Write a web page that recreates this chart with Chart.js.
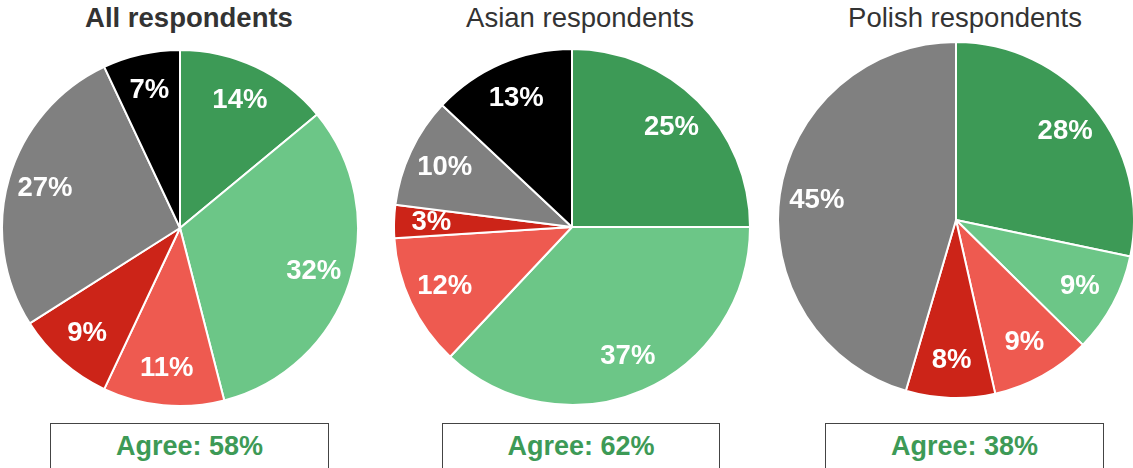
<!DOCTYPE html>
<html>
<head>
  <title>Respondents agreement pies</title>
  <script src="https://cdn.jsdelivr.net/npm/chart.js@4.4.1/dist/chart.umd.min.js"></script>
  <style>
    body {
      margin: 0;
      width: 1133px;
      height: 468px;
      overflow: hidden;
      background: white;
      font-family: "Liberation Sans", Arial, sans-serif;
      position: relative;
    }
    .title {
      position: absolute;
      top: 0;
      width: 400px;
      text-align: center;
      font-size: 27.5px;
      color: #333;
      line-height: 36px;
    }
    .pie {
      position: absolute;
      width: 358px;
      height: 358px;
    }
    .box {
      position: absolute;
      top: 423px;
      height: 60px;
      border: 1px solid #444;
      text-align: center;
      font-size: 27px;
      font-weight: bold;
      color: #3d9a56;
      line-height: 44px;
      box-sizing: border-box;
    }
  </style>
</head>
<body>
  <div class="title" style="left:-11px;font-weight:bold;">All respondents</div>
  <div class="title" style="left:380px;">Asian respondents</div>
  <div class="title" style="left:765px;">Polish respondents</div>

  <div class="pie" style="left:1px;top:49px;"><canvas id="pie0"></canvas></div>
  <div class="pie" style="left:393px;top:48px;"><canvas id="pie1"></canvas></div>
  <div class="pie" style="left:777px;top:41px;"><canvas id="pie2"></canvas></div>

  <div class="box" style="left:50px;width:279px;" id="agree0"></div>
  <div class="box" style="left:442px;width:278px;" id="agree1"></div>
  <div class="box" style="left:825px;width:279px;" id="agree2"></div>

  <script>
    // Data (percent), clockwise from the top
    var categories = ['Strongly agree', 'Agree', 'Disagree', 'Strongly disagree', 'Neutral', 'Don\'t know'];
    var allValues = [14, 32, 11, 9, 27, 7];
    var asianValues = [25, 37, 12, 3, 10, 13];
    var polishValues = [28, 9, 9, 8, 45, 0];
    var agreeTotals = [58, 62, 38];

    var colors = ['#3d9a56', '#6cc687', '#ee5a50', '#cc2418', '#808080', '#000000'];

    // White percent labels inside slices
    var sliceLabels = {
      id: 'sliceLabels',
      afterDatasetsDraw: function(chart) {
        var ctx = chart.ctx;
        var meta = chart.getDatasetMeta(0);
        var data = chart.data.datasets[0].data;
        ctx.save();
        ctx.fillStyle = 'white';
        ctx.font = 'bold 27.5px "Liberation Sans", Arial, sans-serif';
        ctx.textAlign = 'center';
        ctx.textBaseline = 'middle';
        meta.data.forEach(function(arc, i) {
          if (!data[i]) return;
          var mid = (arc.startAngle + arc.endAngle) / 2;
          var r = arc.outerRadius * 0.79;
          ctx.fillText(data[i] + '%', arc.x + Math.cos(mid) * r, arc.y + Math.sin(mid) * r);
        });
        ctx.restore();
      }
    };

    function makePie(id, values) {
      new Chart(document.getElementById(id), {
        type: 'pie',
        data: {
          labels: categories,
          datasets: [{
            data: values,
            backgroundColor: colors,
            borderColor: 'white',
            borderWidth: 2
          }]
        },
        options: {
          responsive: true,
          maintainAspectRatio: false,
          animation: false,
          layout: { padding: 0 },
          plugins: {
            legend: { display: false },
            tooltip: { enabled: false }
          }
        },
        plugins: [sliceLabels]
      });
    }

    makePie('pie0', allValues);
    makePie('pie1', asianValues);
    makePie('pie2', polishValues);

    for (var i = 0; i < agreeTotals.length; i++) {
      document.getElementById('agree' + i).textContent = 'Agree: ' + agreeTotals[i] + '%';
    }
  </script>
</body>
</html>
